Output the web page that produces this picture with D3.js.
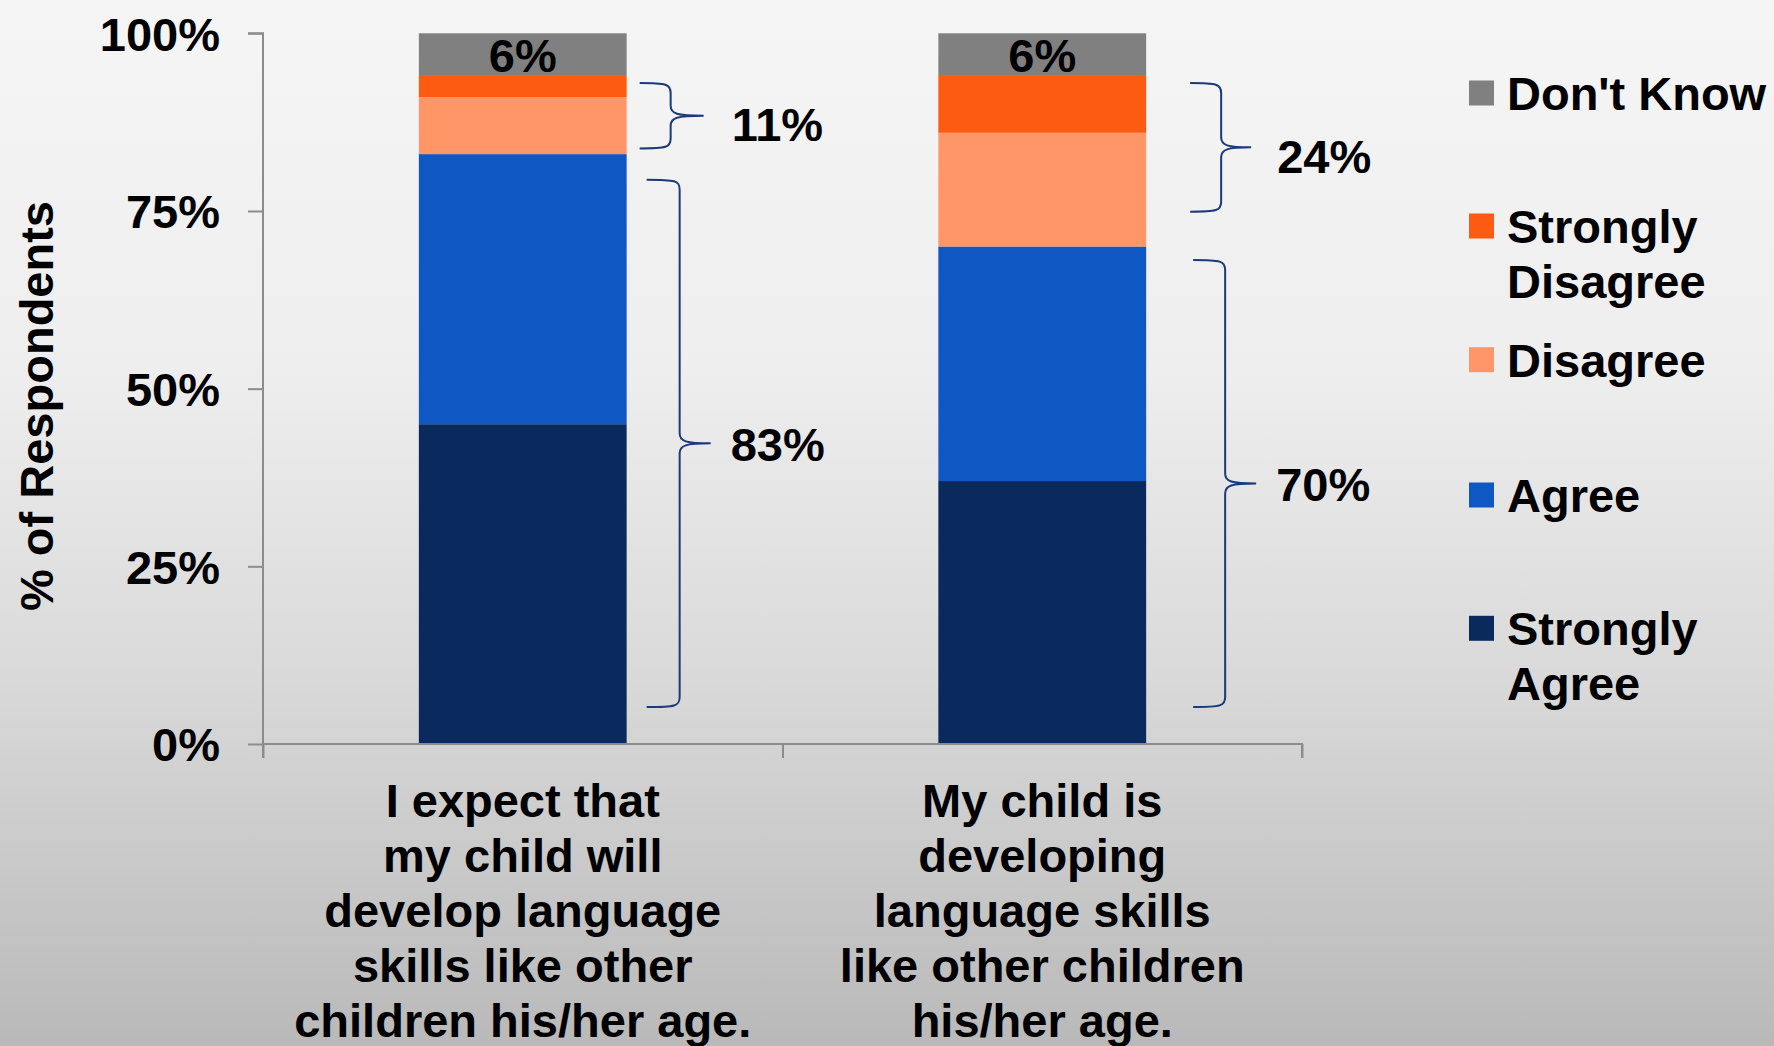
<!DOCTYPE html>
<html>
<head>
<meta charset="utf-8">
<script src="https://cdn.jsdelivr.net/npm/d3@7"></script>
<style>
  html, body { margin: 0; padding: 0; overflow: hidden; }
  svg { display: block; }
  text { font-family: "Liberation Sans", Arial, Helvetica, sans-serif; font-weight: bold; fill: #000; }
</style>
</head>
<body>
<script>
// Survey statements (one stacked bar each), wrapped into display lines
const categories = ["expect", "developing"];
const categoryLines = [
  ["I expect that", "my child will", "develop language", "skills like other", "children his/her age."],
  ["My child is", "developing", "language skills", "like other children", "his/her age."]
];

// Response shares (%) per statement, stacked bottom to top
const seriesNames = ["Strongly Agree", "Agree", "Disagree", "Strongly Disagree", "Don't Know"];
const stronglyAgree    = [45, 37];
const agree            = [38, 33];
const disagree         = [8, 16];
const stronglyDisagree = [3, 8];
const dontKnow         = [6, 6];
const seriesColors = ["#0a2a5e", "#0f57c2", "#ff9668", "#fd5a12", "#808080"];

// Legend entries, top to bottom
const legendNames = ["Don't Know", "Strongly Disagree", "Disagree", "Agree", "Strongly Agree"];
const legendLines = [["Don't Know"], ["Strongly", "Disagree"], ["Disagree"], ["Agree"], ["Strongly", "Agree"]];

// Y axis ticks
const yTicks = [0, 25, 50, 75, 100];

// Bracketed totals: bar index, spanned range (%), label
const braceBar   = [0, 0, 1, 1];
const braceLo    = [83.8, 5.2, 74.9, 5.2];
const braceHi    = [93, 79.4, 93, 68.1];
const braceLabel = ["11%", "83%", "24%", "70%"];

// ---------- layout ----------
const W = 1774, H = 1046;
const FONT = 47;
const plot = { left: 263, right: 1302, top: 33.3, bottom: 744 };
// brace geometry offsets from the bar's right edge: [start, stem, tip, label]
const braceOffsets = [[13, 44, 77, 105], [20, 53, 84, 104], [44, 75, 105, 131], [47, 79, 110, 130]];
const braceLabelShift = [8, 0, 8, 0];

const svg = d3.select("body").append("svg").attr("width", W).attr("height", H);

// background gradient
const defs = svg.append("defs");
const grad = defs.append("linearGradient").attr("id", "bg").attr("x1", 0).attr("y1", 0).attr("x2", 0).attr("y2", 1);
[[0, "#f5f5f5"], [0.35, "#eeeeee"], [0.65, "#d9d9d9"], [1, "#b9b9b9"]].forEach(([o, c]) =>
  grad.append("stop").attr("offset", o).attr("stop-color", c));
svg.append("rect").attr("width", W).attr("height", H).attr("fill", "url(#bg)");

// scales
const x = d3.scaleBand().domain(categories).range([plot.left, plot.right]).paddingInner(0.6).paddingOuter(0.3);
const y = d3.scaleLinear().domain([0, 100]).range([plot.bottom, plot.top]);

// stacked data
const rows = categories.map((c, i) => ({
  cat: c,
  "Strongly Agree": stronglyAgree[i],
  "Agree": agree[i],
  "Disagree": disagree[i],
  "Strongly Disagree": stronglyDisagree[i],
  "Don't Know": dontKnow[i]
}));
const stacked = d3.stack().keys(seriesNames)(rows);
const color = d3.scaleOrdinal().domain(seriesNames).range(seriesColors);

svg.append("g").selectAll("g").data(stacked).join("g")
  .attr("fill", d => color(d.key))
  .selectAll("rect").data(d => d).join("rect")
  .attr("x", d => x(d.data.cat))
  .attr("width", x.bandwidth())
  .attr("y", d => y(d[1]))
  .attr("height", d => y(d[0]) - y(d[1]));

// value labels inside the Don't Know segment
const dk = stacked[stacked.length - 1];
svg.append("g").selectAll("text").data(dk).join("text")
  .attr("x", d => x(d.data.cat) + x.bandwidth() / 2)
  .attr("y", d => (y(d[0]) + y(d[1])) / 2 + 17)
  .attr("text-anchor", "middle")
  .attr("font-size", FONT)
  .text(d => (d[1] - d[0]) + "%");

// y axis
const yAxis = svg.append("g").attr("transform", `translate(${plot.left},0)`)
  .call(d3.axisLeft(y).tickValues(yTicks).tickSize(15).tickPadding(28).tickFormat(d => d + "%"));
yAxis.selectAll("path, line").attr("stroke", "#8c8c8c").attr("stroke-width", 2);
yAxis.select(".domain").attr("d", `M-15,${plot.top}H0V${plot.bottom}`);
yAxis.selectAll("text").attr("font-size", FONT).attr("dy", "0.36em")
  .style("font-family", '"Liberation Sans", Arial, sans-serif').style("font-weight", "bold").attr("fill", "#000");

// x axis with category boundary ticks
const xb = d3.scaleLinear().domain([0, categories.length]).range([plot.left, plot.right]);
const xAxis = svg.append("g").attr("transform", `translate(0,${plot.bottom})`)
  .call(d3.axisBottom(xb).tickValues(d3.range(categories.length + 1)).tickSize(14).tickFormat(""));
xAxis.select(".domain").attr("d", `M${plot.left},14V0H${plot.right}V14`);
xAxis.selectAll("path, line").attr("stroke", "#8c8c8c").attr("stroke-width", 2);

// category labels
const catG = svg.append("g");
categories.forEach((c, i) => {
  const t = catG.append("text")
    .attr("x", x(c) + x.bandwidth() / 2)
    .attr("y", 816.7)
    .attr("text-anchor", "middle")
    .attr("font-size", FONT);
  categoryLines[i].forEach((ln, j) => {
    t.append("tspan").attr("x", x(c) + x.bandwidth() / 2).attr("dy", j === 0 ? 0 : 55).text(ln);
  });
});

// y axis title
svg.append("text")
  .attr("transform", `translate(53,406) rotate(-90)`)
  .attr("text-anchor", "middle")
  .attr("font-size", FONT)
  .text("% of Respondents");

// curly braces with totals
function bracePath(x0, xs, xt, y0, y1) {
  const ym = (y0 + y1) / 2, r = 10;
  return `M${x0},${y0}` +
    `C${xs - 4},${y0} ${xs},${y0 + 1} ${xs},${y0 + r}` +
    `L${xs},${ym - r}` +
    `C${xs},${ym - 2} ${xs + 6},${ym} ${xt},${ym}` +
    `C${xs + 6},${ym} ${xs},${ym + 2} ${xs},${ym + r}` +
    `L${xs},${y1 - r}` +
    `C${xs},${y1 - 1} ${xs - 4},${y1} ${x0},${y1}`;
}
const braceG = svg.append("g");
braceLabel.forEach((lab, i) => {
  const cat = categories[braceBar[i]];
  const right = x(cat) + x.bandwidth();
  const [o0, os, ot, ol] = braceOffsets[i];
  const y0 = y(braceHi[i]), y1 = y(braceLo[i]);
  braceG.append("path")
    .attr("d", bracePath(right + o0, right + os, right + ot, y0, y1))
    .attr("fill", "none")
    .attr("stroke", "#1a3a78")
    .attr("stroke-width", 2);
  braceG.append("text")
    .attr("x", right + ol)
    .attr("y", (y0 + y1) / 2 + braceLabelShift[i] + 17.5)
    .attr("font-size", FONT)
    .text(lab);
});

// legend
const legendBaselines = [110, 243, 376.7, 512, 645.3];
const legG = svg.append("g");
legendNames.forEach((name, i) => {
  const by = legendBaselines[i];
  legG.append("rect")
    .attr("x", 1469).attr("y", by - 29.5)
    .attr("width", 25).attr("height", 25)
    .attr("fill", color(name));
  const t = legG.append("text").attr("x", 1507).attr("y", by).attr("font-size", FONT);
  legendLines[i].forEach((ln, j) => t.append("tspan").attr("x", 1507).attr("dy", j === 0 ? 0 : 55).text(ln));
});
</script>
</body>
</html>
